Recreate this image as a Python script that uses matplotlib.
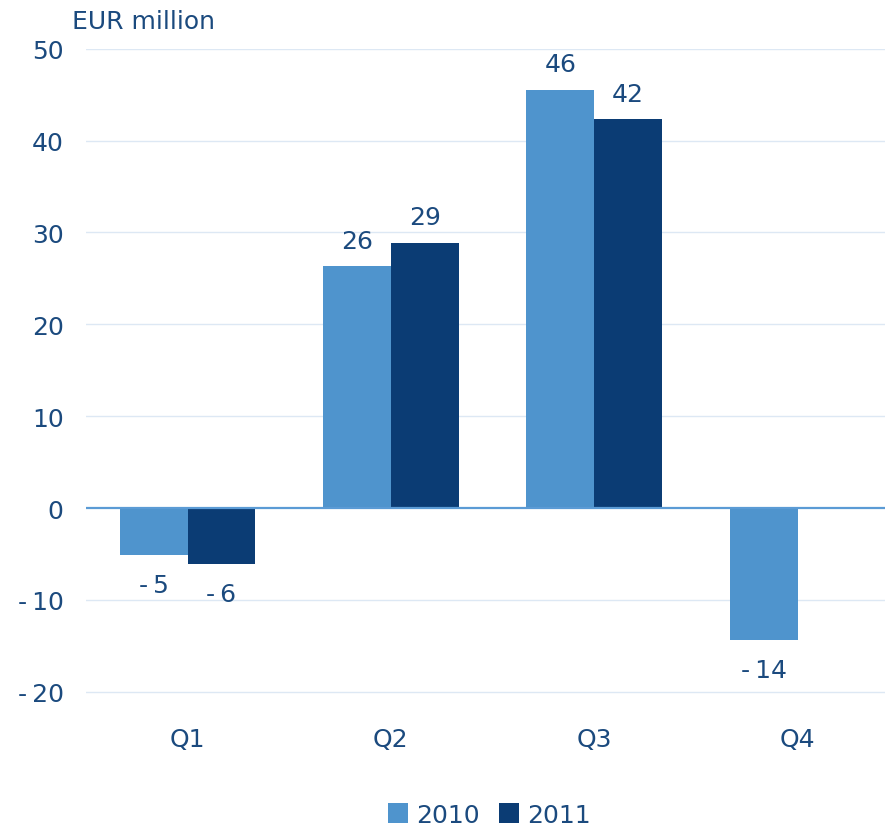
import matplotlib.pyplot as plt
import numpy as np

quarters = ["Q1", "Q2", "Q3", "Q4"]
series_names = ["2010", "2011"]
values_2010 = [-5.1, 26.3, 45.5, -14.4]
values_2011 = [-6.1, 28.9, 42.3, np.nan]
labels_2010 = ["-\u20095", "26", "46", "-\u200914"]
labels_2011 = ["-\u20096", "29", "42", ""]
y_ticks = [-20, -10, 0, 10, 20, 30, 40, 50]
y_tick_labels = ["-\u200920", "-\u200910", "0", "10", "20", "30", "40", "50"]

TEXT = "#1b4a7e"
C2010 = "#4f94cd"
C2011 = "#0b3c74"
FS = 18

fig = plt.figure(figsize=(8.85, 8.29), dpi=100)
ax = fig.add_axes([0.097, 0.162, 0.903, 0.778])

x = np.arange(len(quarters))
w = 0.333
bars = []
for off, vals, labs, color in [(-w / 2, values_2010, labels_2010, C2010),
                               (w / 2, values_2011, labels_2011, C2011)]:
    b = ax.bar(x + off, vals, width=w, color=color)
    bars.append(b)
    for xi, v, lab in zip(x + off, vals, labs):
        if not lab:
            continue
        dy = 10 if v >= 0 else -13
        ax.annotate(lab, (xi, v), xytext=(0, dy), textcoords="offset points",
                    ha="center", va="bottom" if v >= 0 else "top",
                    fontsize=FS, color=TEXT)

ax.set_ylim(-20.2, 50)
ax.set_xlim(-0.5, 3.43)
ax.set_yticks(y_ticks)
ax.set_yticklabels(y_tick_labels)
ax.set_xticks(x)
ax.set_xticklabels(quarters)
ax.tick_params(axis="y", length=0, pad=16, labelsize=FS, labelcolor=TEXT)
ax.tick_params(axis="x", length=0, pad=24, labelsize=FS, labelcolor=TEXT)
for t in y_ticks:
    if t != 0:
        ax.axhline(t, color="#dde8f4", linewidth=1, zorder=0)
ax.axhline(0, color="#5b9bd5", linewidth=1.6, zorder=3)
for s in ax.spines.values():
    s.set_visible(False)

fig.text(0.081, 0.973, "EUR million", fontsize=FS, color=TEXT, ha="left", va="center")

fig.legend(bars, series_names, loc="center", bbox_to_anchor=(0.553, 0.016),
           ncol=2, frameon=False, fontsize=FS, labelcolor=TEXT,
           handlelength=0.8, handleheight=0.8, handletextpad=0.3, columnspacing=0.8)

fig.savefig("out.png", dpi=100)
